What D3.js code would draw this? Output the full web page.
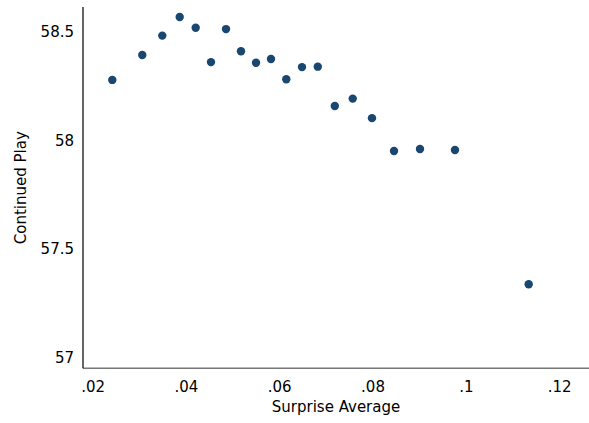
<!DOCTYPE html>
<html lang="en">
  <head>
    <meta charset="utf-8">
    <title>Continued Play vs Surprise Average</title>
    <script src="https://cdn.jsdelivr.net/npm/d3@7"></script>
    <style type="text/css">
      body { margin: 0; background: #fff; }
      text { font-family: "DejaVu Sans", sans-serif; fill: #000; }
    </style>
  </head>
  <body>
    <svg width="589" height="423"></svg>
    <script type="text/javascript">
      // binned scatter values
      var surprise = [.02422, .03065, .03494, .03867, .0421, .04538, .0486, .05181, .05503, .05824,
                      .06152, .06489, .06827, .07192, .07576, .07989, .08461, .09018, .09768, .11348];
      var contPlay = [58.278, 58.393, 58.482, 58.568, 58.518, 58.360, 58.512, 58.410, 58.357, 58.374,
                      58.281, 58.337, 58.339, 58.158, 58.192, 58.102, 57.951, 57.960, 57.955, 57.337];
      var xTicks = [.02, .04, .06, .08, .1, .12];
      var yTicks = [57, 57.5, 58, 58.5];

      var svg = d3.select("svg"),
          width = +svg.attr("width"),
          height = +svg.attr("height");

      var x = d3.scaleLinear()
        .domain([.02, .12])
        .range([92.6, 559.1]);

      var y = d3.scaleLinear()
        .domain([57, 58.5])
        .range([357.5, 31.7]);

      var plotLeft = 83, plotRight = width, plotTop = 7, plotBottom = 368.3;

      var fmtX = function(d) { return String(d).replace(/^0\./, "."); };

      // x axis
      var xAxis = svg.append("g")
        .attr("transform", "translate(0," + plotBottom + ")")
        .call(d3.axisBottom(x).tickValues(xTicks).tickSize(0).tickPadding(13).tickFormat(fmtX));
      xAxis.select(".domain").remove();
      xAxis.selectAll("text").style("font-size", "15px").style("font-family", "DejaVu Sans");
      svg.append("line")
        .attr("x1", plotLeft).attr("x2", plotRight)
        .attr("y1", plotBottom).attr("y2", plotBottom)
        .attr("stroke", "#777").attr("stroke-width", 1.6);

      // y axis
      var yAxis = svg.append("g")
        .attr("transform", "translate(" + plotLeft + ",0)")
        .call(d3.axisLeft(y).tickValues(yTicks).tickSize(0).tickPadding(9).tickFormat(function(d) { return String(d); }));
      yAxis.select(".domain").remove();
      yAxis.selectAll("text").style("font-size", "15px").style("font-family", "DejaVu Sans");
      svg.append("line")
        .attr("x1", plotLeft).attr("x2", plotLeft)
        .attr("y1", plotTop).attr("y2", plotBottom)
        .attr("stroke", "#111").attr("stroke-width", 1.3);

      // axis titles
      svg.append("text")
        .attr("x", (plotLeft + plotRight) / 2)
        .attr("y", 411.5)
        .attr("text-anchor", "middle")
        .style("font-size", "15px")
        .text("Surprise Average");

      svg.append("text")
        .attr("transform", "translate(26," + ((plotTop + plotBottom) / 2) + ") rotate(-90)")
        .attr("text-anchor", "middle")
        .style("font-size", "15px")
        .text("Continued Play");

      // points
      svg.append("g")
        .selectAll("circle")
        .data(d3.zip(surprise, contPlay))
        .enter().append("circle")
          .attr("cx", function(d) { return x(d[0]); })
          .attr("cy", function(d) { return y(d[1]); })
          .attr("r", 4.2)
          .attr("fill", "#1a476f");
    </script>
  </body>
</html>
